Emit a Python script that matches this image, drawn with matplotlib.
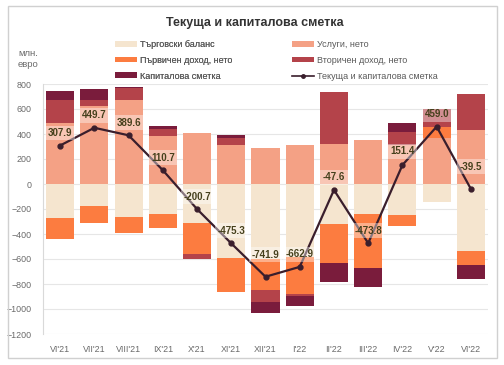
import numpy as np
import matplotlib
matplotlib.use('Agg')
import matplotlib.pyplot as plt
from matplotlib.patches import Patch, Rectangle
from matplotlib.lines import Line2D

plt.rcParams['font.family'] = ['Liberation Sans Narrow', 'Liberation Sans', 'DejaVu Sans']

# data, млн. евро
months = ["VI'21", "VII'21", "VIII'21", "IX'21", "X'21", "XI'21", "XII'21",
          "I'22", "II'22", "III'22", "IV'22", "V'22", "VI'22"]
trade = [-275, -176, -261, -240, -309, -589, -600, -581, -323, -243, -248, -141, -533]
services = [485, 624, 672, 386, 405, 312, 291, 312, 320, 352, 316, 368, 432]
primary = [-162, -133, -128, -115, -254, -277, -248, -300, -312, -428, -88, 86, -115]
secondary = [187, 48, 96, 53, -40, 53, -98, -18, 419, 0, 99, 146, 288]
capital = [75, 88, 11, 27, 0, 27, -86, -75, -152, -155, 72, 0, -112]
total = [307.9, 449.7, 389.6, 110.7, -200.7, -475.3, -741.9, -662.9, -47.6,
         -473.8, 151.4, 459.0, -39.5]

series = [
    ("Търговски баланс", trade, '#F5E5CF'),
    ("Услуги, нето", services, '#F4A185'),
    ("Първичен доход, нето", primary, '#FC7C40'),
    ("Вторичен доход, нето", secondary, '#B4434A'),
    ("Капиталова сметка", capital, '#7A1C3C'),
]
line_color = '#3A1E2C'
label_offsets = [9, 9, 9, 9, 9, 9, 16, 9, 9, 9, 10, 9, 16]

fig = plt.figure(figsize=(5.04, 3.65), dpi=100)
fig.patches.append(Rectangle((8 / 504, 1 - 358 / 365), 489 / 504, 352 / 365,
                             transform=fig.transFigure, fill=False,
                             edgecolor='#D0D0D0', lw=1))

ax = fig.add_axes([43 / 504, 1 - 334 / 365, 445 / 504, 250 / 365])
x = np.arange(len(months))
pos_base = np.zeros(len(months))
neg_base = np.zeros(len(months))
for name, vals, col in series:
    v = np.array(vals, dtype=float)
    bottom = np.where(v >= 0, pos_base, neg_base)
    ax.bar(x, v, width=0.82, bottom=bottom, color=col, zorder=2)
    pos_base += np.where(v >= 0, v, 0)
    neg_base += np.where(v < 0, v, 0)

ax.plot(x, total, color=line_color, lw=1.6, marker='o', ms=3.5, zorder=4)
for i, t in enumerate(total):
    ax.annotate(f"{t:.1f}", (x[i], t), xytext=(0, label_offsets[i]),
                textcoords='offset points', ha='center', va='center',
                fontsize=7, fontweight='bold', color='#45401C', zorder=5,
                bbox=dict(boxstyle='square,pad=0.25', facecolor='white',
                          edgecolor='none', alpha=0.4))

ax.set_ylim(-1200, 800)
ax.set_xlim(-0.5, len(months) - 0.5)
ax.set_yticks(np.arange(-1200, 801, 200))
ax.set_xticks(x)
ax.set_xticklabels(months)
ax.tick_params(axis='both', length=0, labelsize=6.4, colors='#6A6A6A')
ax.tick_params(axis='x', pad=8)
ax.tick_params(axis='y', pad=8)
ax.grid(axis='y', color='#E6E6E6', lw=0.8, zorder=0)
for s in ['top', 'right', 'bottom']:
    ax.spines[s].set_visible(False)
ax.spines['left'].set_color('#D9D9D9')

fig.text(255 / 504, 1 - 23 / 365, "Текуща и капиталова сметка", ha='center',
         va='center', fontsize=9, fontweight='bold', color='#333333')
fig.text(18 / 504, 1 - 59 / 365, "млн.\nевро", ha='left', va='center',
         fontsize=6.8, color='#6A6A6A', linespacing=1.4)

h = {name: Patch(facecolor=col) for name, vals, col in series}
line_h = Line2D([], [], color=line_color, lw=1.2, marker='o', ms=2.5)
leg_kw = dict(frameon=False, fontsize=6.5, handlelength=2.4, handleheight=0.6,
              labelspacing=0.75, borderpad=0, borderaxespad=0, handletextpad=0.4,
              labelcolor='#595959')
names_left = ["Търговски баланс", "Първичен доход, нето", "Капиталова сметка"]
leg1 = fig.legend([h[n] for n in names_left], names_left, loc='upper left',
                  bbox_to_anchor=(115 / 504, 1 - 40 / 365), **leg_kw)
names_right = ["Услуги, нето", "Вторичен доход, нето"]
fig.legend([h[n] for n in names_right] + [line_h],
           names_right + ["Текуща и капиталова сметка"], loc='upper left',
           bbox_to_anchor=(292 / 504, 1 - 40 / 365), **leg_kw)
fig.add_artist(leg1)

fig.savefig('out.png', dpi=100)
